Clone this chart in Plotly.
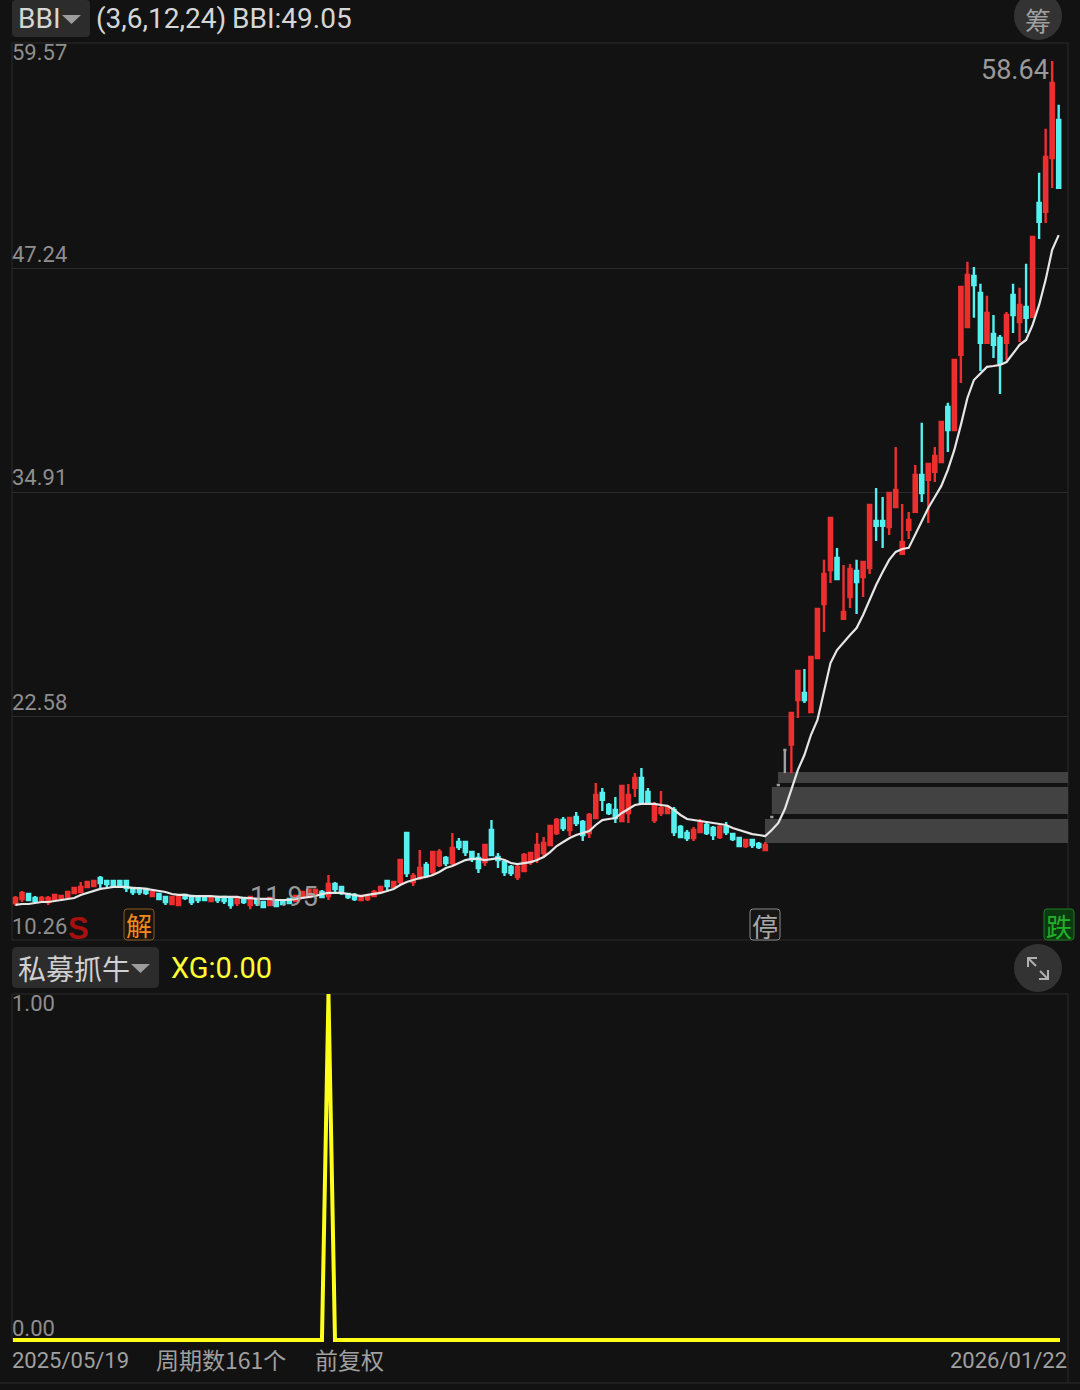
import plotly.graph_objects as go

OPEN = [12.30,12.52,12.79,12.57,12.46,12.35,12.52,12.57,12.63,12.85,12.90,13.18,13.23,13.67,13.51,13.51,13.51,13.51,13.12,13.07,
13.07,12.68,12.79,12.63,12.24,12.19,12.74,12.68,12.63,12.63,12.41,12.63,12.63,12.52,12.30,12.57,12.19,12.52,12.35,12.19,
12.41,12.35,12.52,12.41,12.63,12.63,12.74,12.90,12.68,13.34,13.18,12.79,12.74,12.46,12.52,12.68,12.90,13.51,13.18,13.45,
16.15,13.45,13.67,14.39,14.00,14.39,14.77,14.50,15.65,15.65,15.10,14.77,14.55,16.31,14.83,14.55,14.28,13.73,14.06,14.55,
14.77,15.05,15.49,16.15,16.86,16.31,17.03,16.75,16.15,16.97,18.35,17.69,17.42,16.81,17.25,18.63,19.18,18.41,16.86,17.25,
17.25,17.42,16.48,16.15,15.87,16.20,16.59,16.42,15.93,16.48,16.09,15.87,15.43,15.76,15.54,15.21,17.03,18.79,20.72,21.01,
23.47,23.85,22.81,25.78,28.75,30.62,31.29,27.93,29.14,30.57,30.24,30.73,33.32,33.32,32.99,34.09,31.51,32.83,33.82,35.85,
35.58,36.02,36.57,39.60,38.33,42.46,43.99,46.81,45.87,43.12,43.61,43.39,43.12,45.76,44.27,45.10,44.55,50.82,50.33,53.30,55.39]
HIGH = [12.68,12.96,12.85,12.68,12.68,12.68,12.79,12.74,12.96,13.18,13.45,13.45,13.51,13.78,13.51,13.51,13.51,13.51,13.12,13.07,
13.07,12.90,12.85,12.63,12.63,12.68,12.74,12.68,12.63,12.63,12.63,12.63,12.63,12.52,12.63,12.57,12.68,12.57,12.35,12.57,
12.41,12.41,12.52,12.74,12.96,13.01,13.01,13.01,13.84,13.45,13.23,12.85,12.85,12.68,12.68,13.01,13.18,13.51,13.51,14.66,
16.15,13.95,15.21,14.55,15.10,15.27,14.88,16.15,15.87,15.65,15.10,15.05,15.49,16.86,15.05,14.66,14.39,14.39,15.05,15.10,
16.15,15.93,16.59,16.97,17.03,17.03,17.31,16.86,17.25,18.90,18.63,17.80,18.13,18.74,18.85,19.45,19.73,18.63,17.86,18.46,
17.69,17.58,16.59,16.31,16.48,16.92,16.81,16.53,16.59,16.75,16.15,15.87,15.82,15.76,15.65,15.65,17.03,18.79,20.72,22.75,
25.07,25.18,25.84,28.48,31.18,33.49,31.84,30.90,30.95,31.18,31.06,34.20,35.14,34.64,34.86,37.39,34.26,33.82,36.40,38.72,
36.46,37.39,38.77,39.82,42.18,46.20,47.58,47.30,46.37,45.71,44.66,43.56,44.82,46.37,46.15,47.47,48.95,52.48,54.90,58.64,56.22]
LOW = [12.13,12.35,12.41,12.30,12.35,12.19,12.46,12.41,12.57,12.79,12.85,13.18,13.23,13.12,13.12,13.12,13.18,12.90,12.74,12.74,
12.74,12.68,12.46,12.19,12.24,12.19,12.46,12.19,12.30,12.41,12.41,12.30,12.24,11.98,12.13,12.24,11.95,12.13,12.02,12.19,
12.08,12.19,12.24,12.35,12.57,12.63,12.68,12.63,12.46,12.90,12.74,12.52,12.41,12.46,12.41,12.68,12.90,13.01,13.12,13.34,
13.73,13.23,13.56,13.73,13.78,14.28,14.33,14.39,15.21,14.88,14.55,13.95,14.33,14.88,14.22,13.78,13.78,13.56,14.06,14.39,
14.50,14.77,15.43,16.04,16.26,15.98,16.53,15.71,15.87,16.92,17.36,17.14,16.70,16.81,16.70,18.13,17.69,17.69,16.70,17.08,
17.19,15.98,15.87,15.71,15.71,16.15,16.04,15.76,15.82,16.04,15.71,15.38,15.32,15.32,15.27,15.21,17.03,18.79,19.45,19.45,
22.48,23.30,22.81,25.78,27.21,29.91,30.07,27.93,28.53,28.20,29.14,30.40,32.22,31.84,32.55,34.09,31.51,32.33,33.82,34.37,
33.21,35.47,36.57,37.12,38.33,40.92,43.94,44.50,41.58,43.12,42.29,40.31,42.18,43.67,43.17,43.67,44.55,48.84,49.72,51.65,51.65]
CLOSE = [12.57,12.85,12.46,12.41,12.57,12.57,12.74,12.68,12.90,13.12,13.18,13.45,13.51,13.40,13.34,13.23,13.23,13.12,12.90,12.90,
12.85,12.90,12.52,12.35,12.63,12.68,12.57,12.35,12.46,12.46,12.63,12.46,12.41,12.19,12.52,12.35,12.63,12.30,12.08,12.57,
12.13,12.24,12.30,12.68,12.90,13.01,13.01,12.63,13.34,13.07,12.85,12.63,12.52,12.68,12.63,12.90,13.18,13.23,13.45,14.66,
13.95,13.78,14.22,13.84,15.10,15.10,14.50,15.32,15.38,15.10,14.72,14.22,15.49,14.94,14.66,14.00,13.95,14.28,14.94,15.05,
15.49,15.60,16.53,16.86,16.42,16.97,16.70,16.04,17.14,18.24,17.97,17.25,16.97,18.74,18.24,19.18,17.80,17.80,17.69,17.52,
17.52,16.20,15.93,15.87,16.31,16.70,16.15,16.04,16.48,16.20,15.82,15.43,15.76,15.49,15.38,15.49,17.03,18.79,20.72,22.75,
25.07,23.47,25.84,28.48,30.40,33.49,30.13,28.31,30.68,29.96,31.06,34.20,33.05,33.05,34.86,35.03,32.17,33.38,35.85,34.86,
36.46,36.90,38.77,38.33,42.18,46.20,46.86,46.31,43.12,44.77,43.01,42.02,44.66,44.66,45.21,44.50,48.95,49.78,53.36,57.43,51.65]
BBI = [12.19,12.24,12.24,12.30,12.35,12.35,12.41,12.46,12.52,12.57,12.74,12.85,12.96,13.07,13.12,13.18,13.18,13.18,13.12,13.12,
13.07,13.01,12.96,12.90,12.79,12.74,12.74,12.68,12.68,12.68,12.68,12.63,12.63,12.63,12.63,12.57,12.57,12.52,12.52,12.52,
12.46,12.46,12.46,12.52,12.57,12.63,12.68,12.79,12.85,12.85,12.85,12.79,12.74,12.68,12.74,12.79,12.85,12.96,13.07,13.29,
13.45,13.56,13.67,13.73,13.84,14.00,14.22,14.33,14.50,14.66,14.72,14.72,14.66,14.72,14.77,14.66,14.50,14.44,14.50,14.55,
14.66,14.83,15.10,15.43,15.65,15.87,16.04,16.15,16.26,16.59,16.86,16.92,16.97,17.25,17.47,17.69,17.75,17.75,17.75,17.69,
17.64,17.42,17.14,16.92,16.86,16.81,16.75,16.70,16.64,16.59,16.42,16.31,16.20,16.09,16.04,15.98,16.31,16.70,17.47,18.52,
19.62,20.44,21.54,22.37,24.02,25.50,26.22,26.66,27.05,27.43,28.15,28.97,29.80,30.51,31.18,31.62,31.78,31.84,32.55,33.27,
34.04,34.64,35.25,36.13,37.23,38.61,40.09,41.08,41.47,41.80,41.85,41.91,42.07,42.57,43.01,43.28,44.11,45.21,46.59,48.24,49.05]
XG = [1.0 if i == 48 else 0.0 for i in range(161)]
GRAY_BARS = [116, 117, 118]
TICKS_MAIN = [59.57, 47.24, 34.91, 22.58, 10.26]
TICKS_SUB = [1.00, 0.00]
BAND_START = [116.95, 116.0, 114.95]
BAND_LOW = [18.90, 17.19, 15.60]
BAND_HIGH = [19.51, 18.68, 16.92]

W, H = 1080, 1390
BG = "#121212"
GRID = "#2b2b2b"
RED = "#ee2f2f"
CYAN = "#55f0f0"
FONT = "Roboto, 'Noto Sans CJK SC', sans-serif"
CJK = "'Noto Sans CJK SC', Roboto, sans-serif"
XR = [-0.54, 161.43]

px = lambda x: x / W
py = lambda y: 1 - y / H

xs = list(range(161))
main_i = [i for i in xs if i not in GRAY_BARS]
take = lambda arr, idx: [arr[i] for i in idx]

fig = go.Figure()
for idx, up, dn in [(main_i, RED, CYAN), (GRAY_BARS, "#a0a0a0", "#a0a0a0")]:
    fig.add_trace(go.Candlestick(
        x=idx, open=take(OPEN, idx), high=take(HIGH, idx), low=take(LOW, idx), close=take(CLOSE, idx),
        increasing=dict(line=dict(color=up, width=2.4), fillcolor=up),
        decreasing=dict(line=dict(color=dn, width=2.4), fillcolor=dn),
        whiskerwidth=0, showlegend=False, xaxis="x", yaxis="y"))
fig.add_trace(go.Scatter(x=xs, y=BBI, mode="lines", line=dict(color="#e6e6e6", width=2.2),
                         showlegend=False, xaxis="x", yaxis="y"))
fig.add_trace(go.Scatter(x=[-0.4] + xs + [160.2], y=[0.0] + XG + [0.0], mode="lines",
                         line=dict(color="#ffff1a", width=4, shape="linear"),
                         showlegend=False, xaxis="x2", yaxis="y2"))

shapes = []
def rrect(x0, y0, x1, y1, r, fill, line=None, lw=1):
    a, b, c, d = px(x0), py(y0), px(x1), py(y1)
    rx, ry = r / W, r / H
    path = (f"M{a+rx},{b} L{c-rx},{b} Q{c},{b} {c},{b-ry} L{c},{d+ry} Q{c},{d} {c-rx},{d} "
            f"L{a+rx},{d} Q{a},{d} {a},{d+ry} L{a},{b-ry} Q{a},{b} {a+rx},{b} Z")
    shapes.append(dict(type="path", xref="paper", yref="paper", path=path, fillcolor=fill,
                       line=dict(color=line or fill, width=lw if line else 0), layer="below"))
def poly(points, fill=None, color=None, lw=0, layer="above"):
    p = "M" + " L".join(f"{px(x)},{py(y)}" for x, y in points) + (" Z" if fill else "")
    shapes.append(dict(type="path", xref="paper", yref="paper", path=p,
                       fillcolor=fill or "rgba(0,0,0,0)", line=dict(color=color or "rgba(0,0,0,0)", width=lw), layer=layer))
def circle(cx, cy, r, fill):
    shapes.append(dict(type="circle", xref="paper", yref="paper", x0=px(cx-r), x1=px(cx+r),
                       y0=py(cy+r), y1=py(cy-r), fillcolor=fill, line=dict(width=0), layer="below"))
def hline(y, x0=12, x1=1068):
    shapes.append(dict(type="line", xref="paper", yref="paper", x0=px(x0), x1=px(x1), y0=py(y), y1=py(y),
                       line=dict(color=GRID, width=1), layer="below"))
def vline(x, y0, y1):
    shapes.append(dict(type="line", xref="paper", yref="paper", x0=px(x), x1=px(x), y0=py(y0), y1=py(y1),
                       line=dict(color=GRID, width=1), layer="below"))

for s, lo, hi in zip(BAND_START, BAND_LOW, BAND_HIGH):
    shapes.append(dict(type="rect", xref="x", yref="y", x0=s, x1=XR[1], y0=lo, y1=hi,
                       fillcolor="#424242", line=dict(width=0), layer="below"))

rrect(12, 0, 90, 37, 4, "#2c2c2c")
rrect(12, 947, 159, 988, 5, "#2c2c2c")
circle(1038, 16, 24, "#333333")
circle(1038, 968, 24, "#333333")
poly([(62, 15), (81, 15), (71.5, 24)], fill="#9c9c9c")
poly([(131, 964), (150, 964), (140.5, 973)], fill="#9c9c9c")
poly([(1028, 967), (1028, 958), (1037, 958)], color="#b0b0b0", lw=2)
poly([(1029, 959), (1036, 966)], color="#b0b0b0", lw=2)
poly([(1048, 970), (1048, 979), (1039, 979)], color="#b0b0b0", lw=2)
poly([(1047, 978), (1040, 971)], color="#b0b0b0", lw=2)

hline(43); hline(940); hline(994); hline(1383, 0, 1080)
vline(12, 43, 940); vline(1068, 43, 940); vline(12, 994, 1340); vline(1068, 994, 1383)

rrect(124, 909, 154, 940, 3, "#1a1410", "#8a5a20", 1)
rrect(750, 909, 780, 940, 3, "#161616", "#8a8a8a", 1)
rrect(1044, 909, 1074, 940, 3, "#0c3a10", "#1f7a24", 1)

ann = []
def text(x, y, s, size, color, anchor="left", family=FONT, bold=False):
    t = f"<b>{s}</b>" if bold else s
    ann.append(dict(xref="paper", yref="paper", x=px(x), y=py(y), text=t, showarrow=False, xanchor=anchor,
                    yanchor="middle", align="left", font=dict(size=size, color=color, family=family), borderpad=0))

LABEL = "#8e8e8e"
text(17, 18, "BBI", 28, "#d6d6d6")
text(95, 18, "(3,6,12,24)", 28, "#d6d6d6")
text(231, 18, "BBI:49.05", 28, "#d6d6d6")
text(11, 53, f"{TICKS_MAIN[0]:.2f}", 22, LABEL)
text(11, 254, f"{TICKS_MAIN[1]:.2f}", 22, LABEL)
text(11, 478, f"{TICKS_MAIN[2]:.2f}", 22, LABEL)
text(11, 702, f"{TICKS_MAIN[3]:.2f}", 22, LABEL)
text(11, 926, f"{TICKS_MAIN[4]:.2f}", 22, LABEL)
text(1050, 70, "58.64", 27, "#9a9a9a", anchor="right")
text(249, 897, "11.95", 27, "rgba(170,170,170,0.9)")
text(67, 928, "S", 31, "#a81010", family="'Liberation Sans', sans-serif", bold=True)
text(139, 924, "解", 26, "#f08a1d", anchor="center", family=CJK)
text(765, 925, "停", 26, "#a8a8a8", anchor="center", family=CJK)
text(1059, 925, "跌", 26, "#22b02a", anchor="center", family=CJK)
text(1038, 19.5, "筹", 26, "#a0a0a0", anchor="center", family=CJK)
text(17, 968, "私募抓牛", 28, "#d0d0d0", family=CJK)
text(170, 968, "XG:0.00", 29, "#ffff33")
text(11, 1003, f"{TICKS_SUB[0]:.2f}", 22, LABEL)
text(11, 1328, f"{TICKS_SUB[1]:.2f}", 22, LABEL)
text(11, 1360, "2025/05/19", 22, "#a0a0a0")
text(155, 1358.5, "周期数161个", 23, "#a0a0a0", family=CJK)
text(314, 1358.5, "前复权", 23, "#a0a0a0", family=CJK)
text(1068, 1360, "2026/01/22", 22, "#a0a0a0", anchor="right")

axis_off = dict(showgrid=False, zeroline=False, showticklabels=False, ticks="", showline=False, fixedrange=True)
fig.update_layout(
    width=W, height=H, margin=dict(l=0, r=0, t=0, b=0), autosize=False,
    paper_bgcolor=BG, plot_bgcolor=BG, showlegend=False, hovermode=False,
    xaxis=dict(range=XR, domain=[px(12), px(1068)], anchor="y", rangeslider=dict(visible=False), **axis_off),
    yaxis=dict(range=[TICKS_MAIN[4], TICKS_MAIN[0]], domain=[py(940), py(44)], anchor="x",
               tickmode="array", tickvals=TICKS_MAIN[1:4], showgrid=True, gridcolor=GRID, gridwidth=1,
               zeroline=False, showticklabels=False, ticks="", showline=False, fixedrange=True),
    xaxis2=dict(range=XR, domain=[px(12), px(1068)], anchor="y2", **axis_off),
    yaxis2=dict(range=[-0.0101, 1.0], domain=[py(1343.5), py(994)], anchor="x2", **axis_off),
    shapes=shapes, annotations=ann,
)
fig.write_html("out.html", config=dict(displayModeBar=False, responsive=False),
               post_script="document.body.style.margin='0';document.body.style.background='#121212';document.documentElement.style.overflow='hidden';")
